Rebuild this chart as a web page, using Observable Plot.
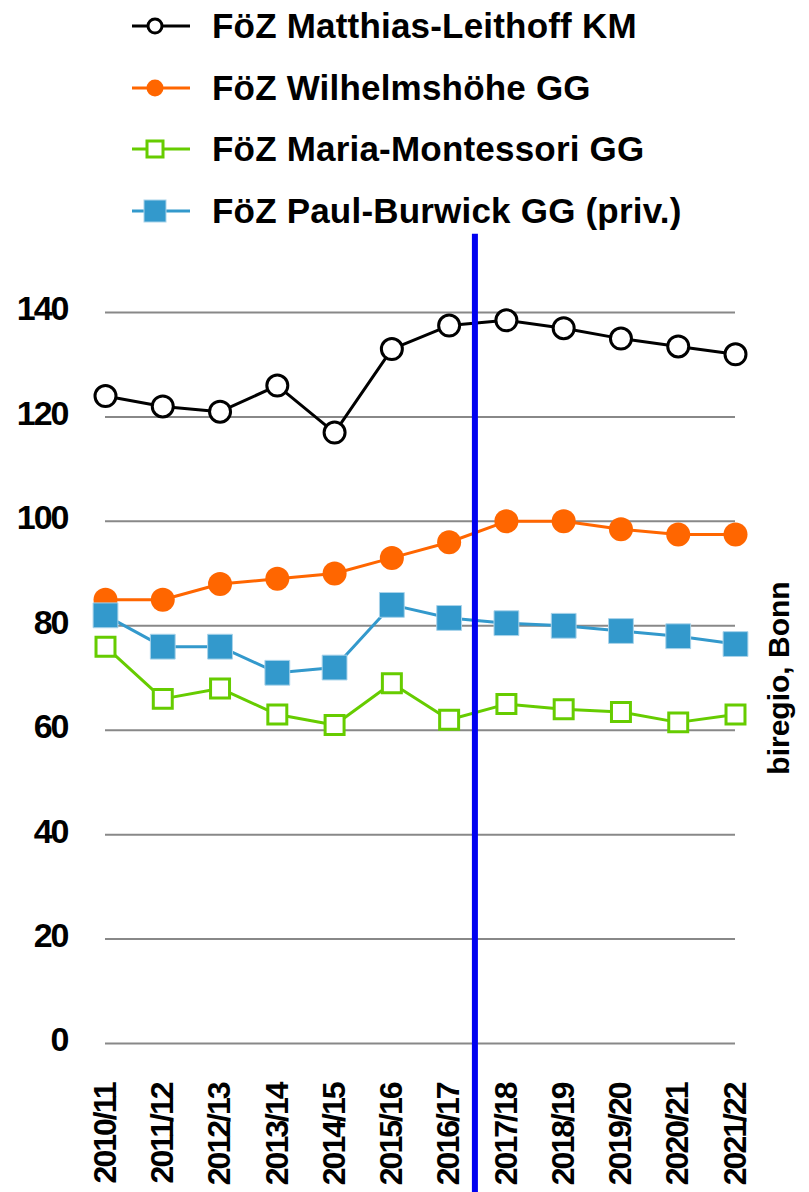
<!DOCTYPE html>
<html>
<head>
<meta charset="utf-8">
<script src="https://cdn.jsdelivr.net/npm/d3@7"></script>
<script src="https://cdn.jsdelivr.net/npm/@observablehq/plot@0.6"></script>
<style>
  body { margin: 0; background: #fff; }
  #wrap { position: relative; width: 809px; height: 1192px; overflow: hidden;
          font-family: "Liberation Sans", Arial, sans-serif; font-weight: bold; color: #000; }
  #legend { position: absolute; left: 0; top: 0; width: 809px; height: 240px; }
  .row { position: absolute; left: 132px; height: 40px; display: flex; align-items: center; }
  .row svg { width: 60px; height: 40px; flex: none; }
  .row span { margin-left: 20px; font-size: 35px; white-space: nowrap; letter-spacing: 0.2px; }
</style>
</head>
<body>
<div id="wrap"></div>
<script>
// ---- data ----
const seasons = ["2010/11","2011/12","2012/13","2013/14","2014/15","2015/16","2016/17",
                 "2017/18","2018/19","2019/20","2020/21","2021/22"];
const leithoff     = [124, 122, 121, 126, 117, 133, 137.5, 138.5, 137, 135, 133.5, 132];
const wilhelmshoehe = [85, 85, 88, 89, 90, 93, 96, 100, 100, 98.5, 97.5, 97.5];
const montessori   = [76, 66, 68, 63, 61, 69, 62, 65, 64, 63.5, 61.5, 63];
const burwick      = [82, 76, 76, 71, 72, 84, 81.5, 80.5, 80, 79, 78, 76.5];
const seriesNames  = ["FöZ Matthias-Leithoff KM", "FöZ Wilhelmshöhe GG",
                      "FöZ Maria-Montessori GG", "FöZ Paul-Burwick GG (priv.)"];
const seriesColors = ["#000000", "#ff6600", "#66cc00", "#3399cc"];
const yTicks = [0, 20, 40, 60, 80, 100, 120, 140];
const breakAt = 6.45;          // between 2016/17 and 2017/18
const breakSpan = [155, -29];  // extent of the break line in value units
const source = "biregio, Bonn";

const rows = (vals) => vals.map((v, i) => ({i, season: seasons[i], value: v}));
const dL = rows(leithoff), dW = rows(wilhelmshoehe), dM = rows(montessori), dB = rows(burwick);

const chart = Plot.plot({
  width: 809, height: 1192,
  marginTop: 312, marginBottom: 149, marginLeft: 105, marginRight: 74,
  x: {domain: [0, seasons.length - 1]},
  y: {domain: [0, 140]},
  style: {fontFamily: "'Liberation Sans', Arial, sans-serif", fontWeight: "bold",
          color: "#000", background: "transparent", overflow: "visible"},
  marks: [
    Plot.ruleY(yTicks, {stroke: "#888", strokeWidth: 2}),
    Plot.axisY({ticks: yTicks, tickSize: 0, tickPadding: 38, fontSize: 34, dy: -3, label: null}),
    Plot.axisX({ticks: d3.range(seasons.length), tickFormat: i => seasons[i], tickRotate: -90,
                tickSize: 0, tickPadding: 40, fontSize: 32, label: null}),
    Plot.line(dL, {x: "i", y: "value", stroke: seriesColors[0], strokeWidth: 3}),
    Plot.dot(dL, {x: "i", y: "value", r: 10.5, fill: "#fff", stroke: seriesColors[0], strokeWidth: 3}),
    Plot.line(dW, {x: "i", y: "value", stroke: seriesColors[1], strokeWidth: 3}),
    Plot.dot(dW, {x: "i", y: "value", r: 12, fill: seriesColors[1]}),
    Plot.line(dM, {x: "i", y: "value", stroke: seriesColors[2], strokeWidth: 3}),
    Plot.dot(dM, {x: "i", y: "value", symbol: "square", r: 10.7, fill: "#fff", stroke: seriesColors[2], strokeWidth: 3}),
    Plot.line(dB, {x: "i", y: "value", stroke: seriesColors[3], strokeWidth: 3}),
    Plot.dot(dB, {x: "i", y: "value", symbol: "square", r: 14, fill: seriesColors[3], stroke: "#a9d3ea", strokeWidth: 1}),
    Plot.ruleX([breakAt], {y1: breakSpan[0], y2: breakSpan[1], stroke: "#0000f0", strokeWidth: 6}),
    Plot.text([source], {frameAnchor: "right", rotate: -90, dx: 44, fontSize: 30, textAnchor: "middle"})
  ]
});

const wrap = document.getElementById("wrap");
wrap.appendChild(chart);
d3.select(chart).selectAll('g[aria-label="y-axis tick label"] text').style("letter-spacing", "-2px");
d3.select(chart).selectAll('g[aria-label="x-axis tick label"] text').style("letter-spacing", "-2px");

// ---- legend ----
const legend = document.createElement("div");
legend.id = "legend";
const rowCenters = [26, 87.5, 149, 210.5];
const swatches = [
  `<line x1="0" y1="20" x2="58" y2="20" stroke="${seriesColors[0]}" stroke-width="3"/><circle cx="23" cy="20" r="7" fill="#fff" stroke="${seriesColors[0]}" stroke-width="3"/>`,
  `<line x1="0" y1="20" x2="58" y2="20" stroke="${seriesColors[1]}" stroke-width="3"/><circle cx="23" cy="20" r="8.5" fill="${seriesColors[1]}"/>`,
  `<line x1="0" y1="20" x2="58" y2="20" stroke="${seriesColors[2]}" stroke-width="3"/><rect x="15" y="12" width="16" height="16" fill="#fff" stroke="${seriesColors[2]}" stroke-width="3"/>`,
  `<line x1="0" y1="20" x2="58" y2="20" stroke="${seriesColors[3]}" stroke-width="3"/><rect x="12" y="9" width="22" height="22" fill="${seriesColors[3]}" stroke="#a9d3ea" stroke-width="1"/>`
];
seriesNames.forEach((name, k) => {
  const r = document.createElement("div");
  r.className = "row";
  r.style.top = (rowCenters[k] - 20) + "px";
  r.innerHTML = `<svg viewBox="0 0 60 40">${swatches[k]}</svg><span>${name}</span>`;
  legend.appendChild(r);
});
wrap.appendChild(legend);
</script>
</body>
</html>
